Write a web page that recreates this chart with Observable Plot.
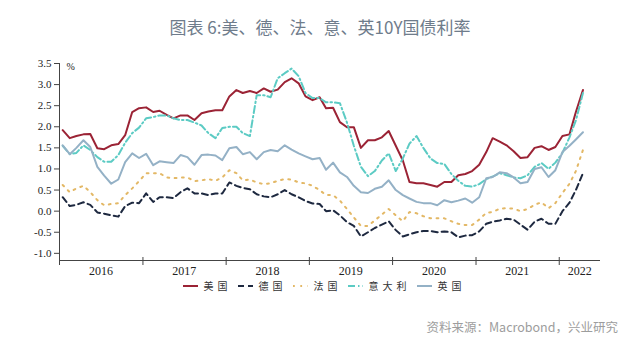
<!DOCTYPE html>
<html><head><meta charset="utf-8">
<script src="https://cdn.jsdelivr.net/npm/d3@7"></script>
<script src="https://cdn.jsdelivr.net/npm/@observablehq/plot@0.6"></script>
<style>
body{margin:0;background:#fff;width:640px;height:358px;overflow:hidden;position:relative;font-family:"Noto Sans CJK SC","Noto Sans",sans-serif}
#title{position:absolute;left:0;top:15px;width:640px;text-align:center;font-size:17px;color:#6f7c8b;line-height:24px}
#chart{position:absolute;left:0;top:48px}
#legend{position:absolute;top:280px;left:4px;width:640px;height:12px;display:flex;justify-content:center;align-items:center;font-size:10px;color:#333;line-height:12px}
#legend .item{display:flex;align-items:center;margin:0 3px 0 3px}
#legend .item svg{flex:none}
#legend .item span{letter-spacing:4px;margin-left:6px;white-space:nowrap}
#caption{position:absolute;right:22px;top:318px;font-size:12.5px;color:#9d9d9d;line-height:18px}
</style></head>
<body>
<div id="title">图表 6:美、德、法、意、英10Y国债利率</div>
<div id="chart"></div>
<div id="legend"></div>
<div id="caption">资料来源：Macrobond，兴业研究</div>
<script>
// Series (monthly, Jan 2016 – Apr 2022), % yield
const us = [1.92,1.73,1.78,1.82,1.83,1.49,1.47,1.56,1.59,1.80,2.35,2.44,
 2.46,2.35,2.38,2.28,2.20,2.27,2.27,2.16,2.32,2.36,2.39,2.39,
 2.72,2.87,2.80,2.85,2.80,2.91,2.83,2.88,3.06,3.15,3.03,2.72,
 2.63,2.70,2.44,2.45,2.11,1.99,1.99,1.50,1.68,1.68,1.75,1.90,
 1.55,1.20,0.69,0.66,0.66,0.62,0.58,0.69,0.69,0.85,0.88,0.95,
 1.10,1.40,1.73,1.65,1.56,1.42,1.26,1.28,1.50,1.54,1.45,1.52,
 1.78,1.82,2.35,2.87];
const de = [0.33,0.12,0.15,0.21,0.15,-0.03,-0.06,-0.10,-0.13,0.12,0.20,0.19,
 0.42,0.22,0.33,0.33,0.31,0.45,0.54,0.42,0.42,0.38,0.42,0.42,
 0.68,0.60,0.55,0.52,0.40,0.35,0.33,0.40,0.50,0.40,0.33,0.24,
 0.18,0.17,0.00,0.02,-0.10,-0.26,-0.35,-0.60,-0.50,-0.40,-0.32,-0.24,
 -0.45,-0.60,-0.55,-0.50,-0.47,-0.47,-0.50,-0.48,-0.50,-0.62,-0.58,-0.57,
 -0.48,-0.30,-0.25,-0.22,-0.18,-0.20,-0.32,-0.44,-0.25,-0.18,-0.30,-0.30,
 0.00,0.20,0.50,0.90];
const fr = [0.62,0.45,0.54,0.60,0.45,0.26,0.14,0.17,0.19,0.38,0.54,0.71,
 0.90,0.90,0.90,0.80,0.78,0.80,0.80,0.71,0.73,0.76,0.72,0.80,
 0.97,0.90,0.73,0.75,0.68,0.64,0.66,0.72,0.76,0.75,0.68,0.66,
 0.60,0.50,0.38,0.38,0.25,0.05,-0.15,-0.35,-0.35,-0.22,-0.08,0.05,
 -0.10,-0.24,-0.02,-0.05,-0.12,-0.17,-0.17,-0.17,-0.24,-0.30,-0.33,-0.33,
 -0.20,-0.04,-0.02,0.06,0.07,0.06,0.00,0.05,0.15,0.21,0.07,0.19,
 0.43,0.65,0.95,1.45];
const it = [1.55,1.35,1.38,1.56,1.45,1.28,1.17,1.17,1.33,1.62,1.85,1.98,
 2.20,2.23,2.27,2.27,2.20,2.16,2.16,2.10,2.03,1.85,1.73,1.97,
 2.00,2.00,1.85,1.78,2.75,2.75,2.70,3.15,3.27,3.38,3.20,2.80,
 2.68,2.68,2.58,2.58,2.56,2.10,1.55,1.05,0.83,0.95,1.20,1.37,
 0.95,1.25,1.60,1.78,1.50,1.25,1.14,1.12,0.88,0.72,0.60,0.58,
 0.64,0.76,0.82,0.90,0.85,0.80,0.78,0.85,1.05,1.14,1.00,1.15,
 1.38,1.75,2.15,2.80];
const uk = [1.56,1.35,1.50,1.68,1.52,1.05,0.84,0.65,0.75,1.16,1.37,1.26,
 1.36,1.09,1.18,1.16,1.14,1.33,1.28,1.10,1.33,1.34,1.32,1.21,
 1.49,1.52,1.35,1.40,1.23,1.40,1.45,1.42,1.56,1.46,1.37,1.30,
 1.23,1.26,0.98,1.15,0.92,0.81,0.60,0.45,0.43,0.53,0.58,0.73,
 0.50,0.38,0.30,0.22,0.19,0.19,0.14,0.26,0.21,0.25,0.30,0.20,
 0.33,0.78,0.81,0.92,0.90,0.80,0.66,0.69,1.00,1.04,0.81,0.97,
 1.40,1.55,1.70,1.87];

const seriesNames = ["美国","德国","法国","意大利","英国"];
const seriesValues = [us, de, fr, it, uk];
const seriesColors = ["#9b2335","#1e2940","#e3b866","#5ccbc4","#94b1c6"];
const seriesDash = [null,"6,4","1.8,5.5","7,3,1.5,3",null];

const yTicks = [-1.0,-0.5,0.0,0.5,1.0,1.5,2.0,2.5,3.0,3.5];
const yearLabels = ["2016","2017","2018","2019","2020","2021","2022"];

const start = new Date(Date.UTC(2016,0,1));
const end = new Date(Date.UTC(2022,6,1));
const dates = us.map((_, i) => new Date(Date.UTC(2016, i, 15)));
const yearStarts = d3.range(2016, 2023).map(y => new Date(Date.UTC(y,0,1)));
const labelDates = yearLabels.map(y => +y === 2022 ? new Date(Date.UTC(2022,3,1)) : new Date(Date.UTC(+y,6,1)));
const yMin = -1.17, yMax = 3.5;

const rows = [];
seriesValues.forEach((vals, s) => vals.forEach((v, i) => rows.push({date: dates[i], value: v, s})));

const serif = "'Liberation Serif','DejaVu Serif',serif";
const marks = [
  Plot.ruleX([start], {stroke: "#444", strokeWidth: 1}),
  Plot.ruleY([yMin], {stroke: "#444", strokeWidth: 1}),
  Plot.axisY({ticks: yTicks, tickFormat: d => d.toFixed(1), tickSize: 5, tickPadding: 3, fontSize: 11, fontFamily: serif, stroke: "#444", color: "#222", label: null}),
  Plot.axisX({ticks: yearStarts, tickFormat: () => "", tickSize: 8, dy: -3, stroke: "#444", label: null}),
  Plot.axisX({ticks: labelDates, tickFormat: (d, i) => yearLabels[i], tickSize: 0, tickPadding: 6, fontSize: 12, fontFamily: serif, color: "#222", label: null}),
  Plot.text(["%"], {frameAnchor: "top-left", dx: 7, dy: -1, fontSize: 10, fontFamily: serif, fill: "#222"})
];
seriesValues.forEach((vals, s) => {
  marks.push(Plot.line(rows.filter(r => r.s === s), {
    x: "date", y: "value", stroke: seriesColors[s], strokeWidth: 2,
    strokeDasharray: seriesDash[s] || undefined, strokeLinejoin: "round"
  }));
});

const chart = Plot.plot({
  width: 640, height: 232,
  marginLeft: 59, marginRight: 40, marginTop: 15, marginBottom: 20,
  x: {type: "utc", domain: [start, end], axis: null},
  y: {domain: [yMin, yMax], axis: null},
  style: {background: "transparent", overflow: "visible"},
  marks
});
document.getElementById("chart").appendChild(chart);

const legend = document.getElementById("legend");
seriesNames.forEach((name, s) => {
  const item = document.createElement("div");
  item.className = "item";
  const dash = seriesDash[s] ? `stroke-dasharray="${seriesDash[s]}"` : "";
  item.innerHTML = `<svg width="15" height="6"><line x1="0" y1="3" x2="15" y2="3" stroke="${seriesColors[s]}" stroke-width="2" ${dash}/></svg><span>${name}</span>`;
  legend.appendChild(item);
});
</script>
</body></html>
